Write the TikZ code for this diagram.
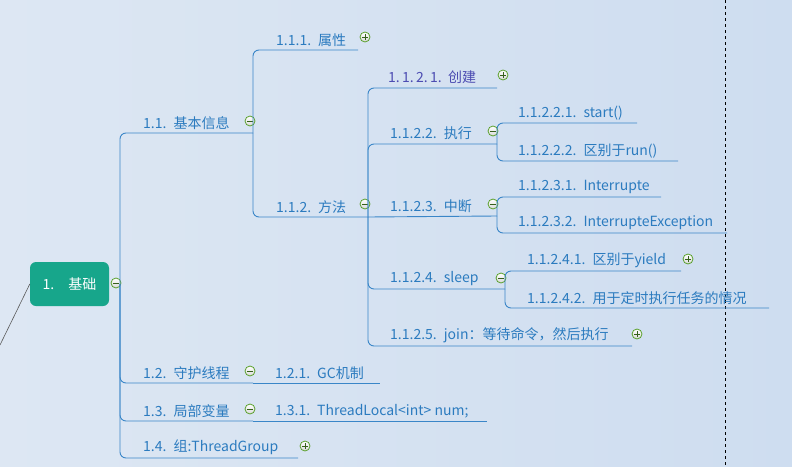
\documentclass[tikz,border=0pt]{standalone}
\usepackage{fontspec}
\newfontfamily\cjk{Noto Sans CJK SC}
\definecolor{linkblue}{HTML}{3A86C8}
\definecolor{txtblue}{HTML}{2B7BBF}
\definecolor{rootgreen}{HTML}{17A68B}
\definecolor{iconring}{HTML}{5AA02C}
\definecolor{bgleft}{HTML}{DDE7F3}
\definecolor{bgright}{HTML}{CEDDF0}
\tikzset{
  link/.style = {draw=linkblue, line width=0.9pt, rounded corners=6pt},
  topic/.style = {anchor=south west, inner sep=0pt, text=txtblue, font=\cjk\fontsize{14}{16}\selectfont},
  fold/.style = {circle, draw=iconring, line width=0.8pt, inner sep=0pt, minimum size=10pt, top color=white, bottom color=gray!30},
}
\newcommand{\foldminus}[2]{\node[fold] (#1) at (#2) {}; \draw[iconring!60!black, line width=1pt] ($(#1)+(-3pt,0)$) -- ($(#1)+(3pt,0)$);}
\newcommand{\foldplus}[2]{\node[fold] (#1) at (#2) {}; \draw[iconring!60!black, line width=1pt] ($(#1)+(-3pt,0)$) -- ($(#1)+(3pt,0)$) ($(#1)+(0,-3pt)$) -- ($(#1)+(0,3pt)$);}
\usetikzlibrary{calc}
\begin{document}
\begin{tikzpicture}[x=1pt, y=-1pt]

\useasboundingbox (0,0) rectangle (792,466);
\shade[left color=bgleft, right color=bgright] (0,0) rectangle (792,466);
\draw[dashed, line width=0.8pt] (725,0) -- (725,466);

% root
\node[fill=rootgreen, rounded corners=6pt, minimum width=79pt, minimum height=44pt, text=white, font=\cjk\fontsize{14}{16}\selectfont] (root) at (69.5,284) {1.\quad 基础};
\coordinate (tail) at (0,345);
\draw[gray!70!black, line width=0.6pt] (tail) -- (root.west);
\foldminus{mroot}{116,283}
\coordinate (j1) at (120,284);

% level 1
\coordinate (e11) at (253,133);
\coordinate (e12) at (253,383);
\coordinate (e13) at (253,421);
\coordinate (e14) at (298,458);
\draw[link] (j1) |- (e11);
\draw[link] (j1) |- (e12);
\draw[link] (j1) |- (e13);
\draw[link] (j1) |- (e14);
\node[topic] (t11) at (143,130) {1.1.\enspace 基本信息};
\node[topic] (t12) at (143,380) {1.2.\enspace 守护线程};
\node[topic] (t13) at (143,418) {1.3.\enspace 局部变量};
\node[topic] (t14) at (143,455) {1.4.\enspace 组:ThreadGroup};
\foldminus{m11}{250,121}
\foldminus{m12}{250,371}
\foldminus{m13}{250,409}
\foldplus{p14}{305,446}

% 1.2 / 1.3 children
\coordinate (e121) at (380,383);
\coordinate (e131) at (487,421);
\draw[link] (e12) -- (e121);
\draw[link] (e13) -- (e131);
\node[topic] (t121) at (275,380) {1.2.1.\enspace GC机制};
\node[topic] (t131) at (275,418) {1.3.1.\enspace ThreadLocal<int> num;};

% 1.1 children
\coordinate (e111) at (358,50);
\coordinate (e112) at (368,217);
\draw[link] (e11) |- (e111);
\draw[link] (e11) |- (e112);
\node[topic] (t111) at (276,47) {1.1.1.\enspace 属性};
\node[topic] (t112) at (276,214) {1.1.2.\enspace 方法};
\foldplus{p111}{365,37}
\foldminus{m112}{365,204}

% 1.1.2 children
\coordinate (e1121) at (497,88);
\coordinate (e1122) at (497,144);
\coordinate (e1123) at (497,216);
\coordinate (e1124) at (505,289);
\coordinate (e1125) at (632,346);
\draw[link] (e112) |- (e1121);
\draw[link] (e112) |- (e1122);
\draw[link] (e112) -- (e1123);
\draw[link] (e112) |- (e1124);
\draw[link] (e112) |- (e1125);
\node[topic, text=gray!60!blue] (t1121) at (388,84) {1.\,1.\,2.\,1.\ \ 创建};
\node[topic] (t1122) at (390,140) {1.1.2.2.\enspace 执行};
\node[topic] (t1123) at (390,213) {1.1.2.3.\enspace 中断};
\node[topic] (t1124) at (390,286) {1.1.2.4.\enspace sleep};
\node[topic] (t1125) at (390,343) {1.1.2.5.\enspace join：等待命令，然后执行};
\foldplus{p1121}{503,75}
\foldminus{m1122}{493,131}
\foldminus{m1123}{493,204}
\foldminus{m1124}{501,278}
\foldplus{p1125}{637,334}

% leaves
\coordinate (e11221) at (637,123);
\coordinate (e11222) at (678,161);
\coordinate (e11231) at (661,197);
\coordinate (e11232) at (727,233);
\coordinate (e11241) at (681,271);
\coordinate (e11242) at (769,308);
\draw[link] (e1122) |- (e11221);
\draw[link] (e1122) |- (e11222);
\draw[link] (e1123) |- (e11231);
\draw[link] (e1123) |- (e11232);
\draw[link] (e1124) |- (e11241);
\draw[link] (e1124) |- (e11242);
\node[topic] (t11221) at (518,120) {1.1.2.2.1.\enspace start()};
\node[topic] (t11222) at (518,158) {1.1.2.2.2.\enspace 区别于run()};
\node[topic] (t11231) at (518,194) {1.1.2.3.1.\enspace Interrupte};
\node[topic] (t11232) at (518,230) {1.1.2.3.2.\enspace InterrupteException};
\node[topic] (t11241) at (527,268) {1.1.2.4.1.\enspace 区别于yield};
\node[topic] (t11242) at (527,305) {1.1.2.4.2.\enspace 用于定时执行任务的情况};
\foldplus{p11241}{688,259}

\end{tikzpicture}
\end{document}
